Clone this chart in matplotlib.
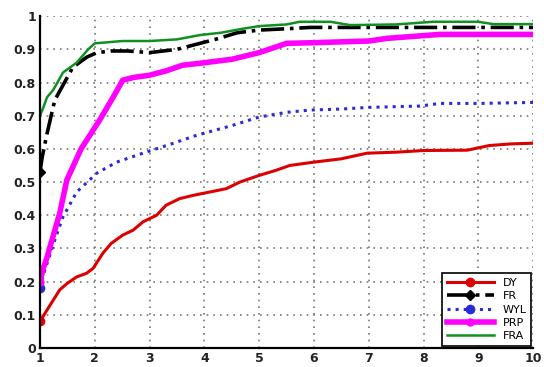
import matplotlib
matplotlib.use("Agg")
import matplotlib.pyplot as plt

x_dy = [1, 1.15, 1.36, 1.5, 1.67, 1.85, 1.97, 2.15, 2.3, 2.51, 2.7, 2.88, 3.13, 3.3, 3.55, 3.8, 4.1, 4.4, 4.65, 5.0, 5.3, 5.56, 6.0, 6.5, 6.97, 7.5, 8.0, 8.8, 9.2, 9.6, 10]
y_dy = [0.08, 0.12, 0.175, 0.195, 0.214, 0.225, 0.24, 0.286, 0.315, 0.34, 0.355, 0.38, 0.40, 0.43, 0.45, 0.46, 0.47, 0.48, 0.50, 0.52, 0.535, 0.55, 0.56, 0.57, 0.587, 0.59, 0.595, 0.596, 0.61, 0.615, 0.617]

x_fr = [1, 1.04, 1.13, 1.27, 1.4, 1.6, 1.86, 2.04, 2.3, 2.6, 3.0, 3.5, 3.92, 4.2, 4.6, 5.0, 5.5, 5.93, 6.5, 7.0, 8.0, 9.0, 10]
y_fr = [0.53, 0.575, 0.647, 0.747, 0.786, 0.846, 0.877, 0.89, 0.895, 0.895, 0.89, 0.90, 0.918, 0.93, 0.95, 0.958, 0.962, 0.966, 0.966, 0.966, 0.966, 0.966, 0.966]

x_wyl = [1, 1.06, 1.15, 1.28, 1.42, 1.67, 2.04, 2.4, 2.88, 3.4, 3.86, 4.5, 5.0, 5.5, 5.93, 6.5, 7.0, 7.93, 8.3, 9.03, 10]
y_wyl = [0.18, 0.22, 0.265, 0.33, 0.395, 0.47, 0.527, 0.56, 0.587, 0.615, 0.641, 0.67, 0.696, 0.71, 0.717, 0.72, 0.725, 0.729, 0.737, 0.737, 0.74]

x_prp = [1, 1.06, 1.13, 1.36, 1.49, 1.75, 2.09, 2.35, 2.51, 2.7, 3.0, 3.3, 3.6, 3.92, 4.5, 5.0, 5.5, 6.0, 7.0, 7.33, 8.3, 9.0, 10]
y_prp = [0.2, 0.24, 0.274, 0.406, 0.506, 0.6, 0.687, 0.76, 0.807, 0.815, 0.822, 0.835, 0.852, 0.858, 0.87, 0.89, 0.918, 0.92, 0.925, 0.933, 0.945, 0.945, 0.945]

x_fra = [1, 1.05, 1.13, 1.24, 1.42, 1.67, 1.88, 2.0, 2.5, 3.0, 3.5, 3.92, 4.3, 4.7, 5.0, 5.5, 5.74, 6.3, 6.66, 7.5, 8.17, 9.0, 9.27, 10]
y_fra = [0.70, 0.72, 0.756, 0.777, 0.83, 0.86, 0.90, 0.918, 0.925, 0.925, 0.93, 0.943, 0.95, 0.962, 0.97, 0.975, 0.983, 0.983, 0.973, 0.975, 0.983, 0.983, 0.976, 0.976]

labels = ["DY", "FR", "WYL", "PRP", "FRA"]
x_ticks = [1, 2, 3, 4, 5, 6, 7, 8, 9, 10]
y_ticks = [0, 0.1, 0.2, 0.3, 0.4, 0.5, 0.6, 0.7, 0.8, 0.9, 1]
y_ticklabels = ["0", "0.1", "0.2", "0.3", "0.4", "0.5", "0.6", "0.7", "0.8", "0.9", "1"]

fig = plt.figure(figsize=(5.44, 3.67), dpi=100)
ax = fig.add_axes([0.0735, 0.052, 0.9065, 0.904])

ax.plot(x_dy, y_dy, color="#dd0000", lw=2.2, marker="o", ms=6, markevery=[0], label=labels[0])
ax.plot(x_fr, y_fr, color="black", lw=2.6, ls="-.", marker="D", ms=5, markevery=[0], label=labels[1])
ax.plot(x_wyl, y_wyl, color="#2a2ad8", lw=2.2, ls=":", marker="o", ms=6, markevery=[0], label=labels[2])
ax.plot(x_prp, y_prp, color="#ff00ff", lw=4, marker="o", ms=5, markevery=[0], label=labels[3])
ax.plot(x_fra, y_fra, color="#109020", lw=1.8, label=labels[4])

ax.set_xlim(1, 10)
ax.set_ylim(0, 1)
ax.set_xticks(x_ticks)
ax.set_yticks(y_ticks)
ax.set_yticklabels(y_ticklabels)
ax.tick_params(labelsize=9, length=0, pad=3)
for t in ax.get_xticklabels() + ax.get_yticklabels():
    t.set_fontweight("bold")
    t.set_color("#222222")
ax.grid(True, ls=(0, (1, 3)), color="#777777", lw=1.2)
for s in ["top", "right"]:
    ax.spines[s].set_visible(False)
ax.spines["left"].set_linewidth(1.6)
ax.spines["bottom"].set_linewidth(1.6)

leg = ax.legend(loc="lower right", fontsize=8, frameon=True, fancybox=False,
                edgecolor="black", handlelength=4.2, labelspacing=0.3,
                borderaxespad=0.2, framealpha=1)
leg.get_frame().set_linewidth(1.2)

fig.savefig("out.png", dpi=100)
